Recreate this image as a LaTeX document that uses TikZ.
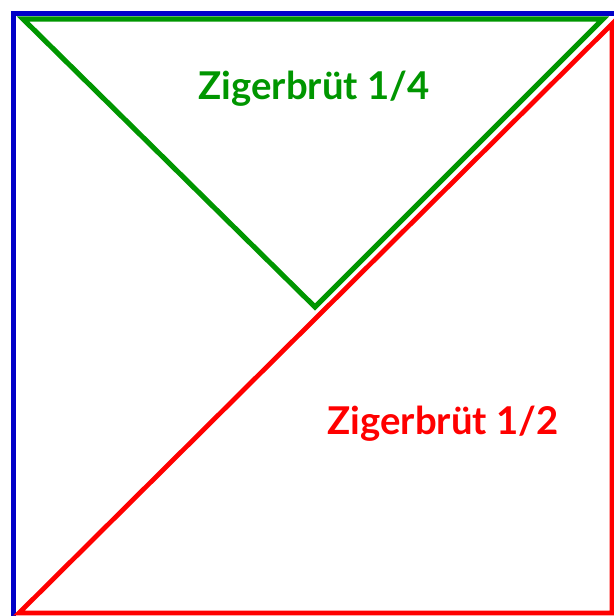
\documentclass[tikz,border=0pt]{standalone}
\usepackage{fontspec}
\setmainfont{Lato}
\usepackage{tikz}
\usetikzlibrary{positioning, calc}
\usepackage{xcolor}
\definecolor{sqblue}{RGB}{0,0,200}
\definecolor{quartergreen}{RGB}{0,150,0}
\definecolor{halfred}{RGB}{255,0,0}

\begin{document}
\begin{tikzpicture}[x=0.02cm, y=-0.02cm, line join=miter]
            \clip (0,0) rectangle (614,616);

            % --- SQUARE ---
            \draw[sqblue, line width=3pt] (13.5,13.5) rectangle (640,640);

            % --- HALF (red) ---
            \coordinate (H1) at (612,24);
            \coordinate (H2) at (612,613);
            \coordinate (H3) at (19,613);
            \draw[halfred, line width=2.7pt] (H1) -- (H2) -- (H3) -- cycle;
            \node[text=halfred, font=\fontsize{21.8}{26}\selectfont\bfseries] (half) at (443,424) {Zigerbrüt 1/2};

            % --- QUARTER (green) ---
            \coordinate (Q1) at (23,19);
            \coordinate (Q2) at (603,19);
            \coordinate (Q3) at (315,307);
            \draw[quartergreen, line width=2.9pt] (Q1) -- (Q2) -- (Q3) -- cycle;
            \node[text=quartergreen, font=\fontsize{21.8}{26}\selectfont\bfseries] (quarter) at (314,89) {Zigerbrüt 1/4};

        \end{tikzpicture}
\end{document}
